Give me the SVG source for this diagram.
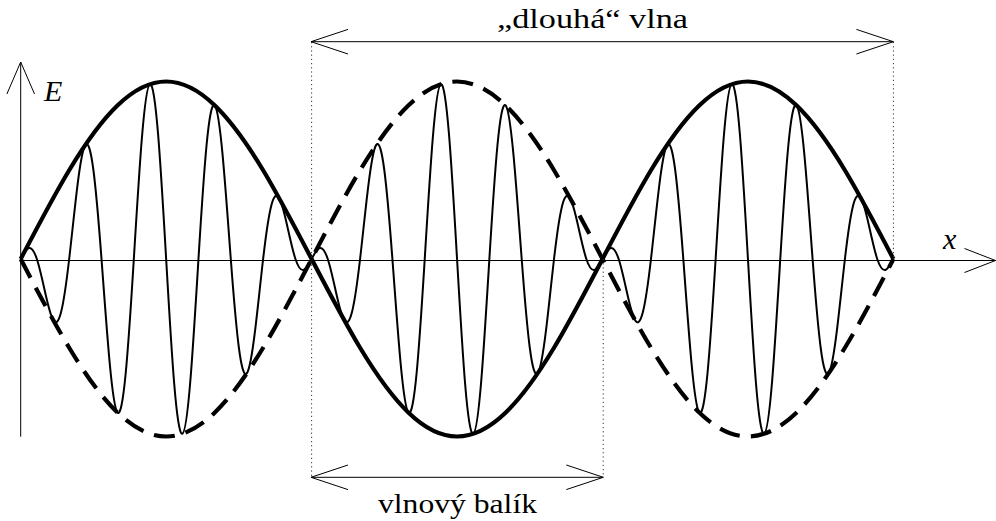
<svg xmlns="http://www.w3.org/2000/svg" xmlns:xlink="http://www.w3.org/1999/xlink" width="996" height="521" viewBox="0 0 996 521">
<style>
.env{fill:none;stroke:#000;stroke-width:4.2;stroke-linejoin:miter}
.dash{stroke-dasharray:21 11.2}
.car{fill:none;stroke:#000;stroke-width:2}
.ax{fill:none;stroke:#000;stroke-width:1}
.dim{fill:none;stroke:#000;stroke-width:1}
.dot{fill:none;stroke:#333;stroke-width:1;stroke-dasharray:1.2 3}
text{fill:#000}
</style>
<defs>
<marker id="arr" viewBox="-40 -15 42 30" refX="0" refY="0" markerWidth="42" markerHeight="30" markerUnits="userSpaceOnUse" orient="auto-start-reverse" overflow="visible">
<path d="M-37,-12.3 L0,0 L-37,12.3" fill="none" stroke="#000" stroke-width="1"/>
</marker>
<path id="envpath" d="M20.70,259 C36.86,228.02 53.02,197.08 69.18,170.25 C85.34,143.42 101.51,120.77 117.67,105.28 C133.83,89.79 149.99,81.5 166.15,81.5 C182.31,81.5 198.47,89.79 214.63,105.28 C230.79,120.77 246.96,143.42 263.12,170.25 C279.28,197.08 295.44,228.02 311.60,259 C327.76,289.98 343.92,320.92 360.08,347.75 C376.24,374.58 392.41,397.23 408.57,412.72 C424.73,428.21 440.89,436.5 457.05,436.5 C473.21,436.5 489.37,428.21 505.53,412.72 C521.69,397.23 537.86,374.58 554.02,347.75 C570.18,320.92 586.34,289.98 602.50,259 C618.66,228.02 634.82,197.08 650.98,170.25 C667.14,143.42 683.31,120.77 699.47,105.28 C715.63,89.79 731.79,81.5 747.95,81.5 C764.11,81.5 780.27,89.79 796.43,105.28 C812.59,120.77 828.76,143.42 844.92,170.25 C861.08,197.08 877.24,228.02 893.40,259"/>
<path id="carpath" d="M20.70,259 C23.39,253.84 26.09,248.83 28.78,248.06 C31.47,247.29 34.17,250.93 36.86,259 C39.55,267.07 42.25,279.46 44.94,291.49 C47.63,303.52 50.33,314.86 53.02,319.71 C55.71,324.56 58.41,322.62 61.10,312.04 C63.79,301.46 66.49,282.24 69.18,259 C71.87,235.77 74.57,208.85 77.26,187.01 C79.95,165.17 82.65,148.86 85.34,144.90 C88.03,140.95 90.74,149.60 93.43,170.25 C96.12,190.90 98.82,223.40 101.51,259 C104.20,294.60 106.90,332.80 109.59,361.81 C112.28,390.82 114.98,410.14 117.67,412.72 C120.36,415.30 123.06,400.99 125.75,372.75 C128.44,344.51 131.14,302.67 133.83,259 C136.52,215.33 139.22,170.45 141.91,137.76 C144.60,105.08 147.30,85.10 149.99,84.20 C152.68,83.30 155.38,101.55 158.07,133.97 C160.76,166.39 163.46,212.53 166.15,259 C168.84,305.47 171.54,351.62 174.23,384.04 C176.92,416.46 179.62,434.70 182.31,433.80 C185.00,432.90 187.70,412.93 190.39,380.24 C193.08,347.56 195.78,302.67 198.47,259 C201.16,215.33 203.86,173.49 206.55,145.25 C209.24,117.01 211.94,102.70 214.63,105.28 C217.32,107.86 220.02,127.18 222.71,156.19 C225.40,185.20 228.10,223.40 230.79,259 C233.48,294.60 236.19,327.10 238.88,347.75 C241.57,368.40 244.27,377.06 246.96,373.10 C249.65,369.15 252.35,352.83 255.04,330.99 C257.73,309.15 260.43,282.24 263.12,259 C265.81,235.77 268.51,216.54 271.20,205.96 C273.89,195.38 276.59,193.44 279.28,198.29 C281.97,203.14 284.67,214.48 287.36,226.51 C290.05,238.54 292.75,250.93 295.44,259 C298.13,267.07 300.83,270.71 303.52,269.94 C306.21,269.17 308.91,264.16 311.60,259"/>
</defs>
<rect width="996" height="521" fill="#fff"/>
<g id="axes">
<line class="ax" x1="20.7" y1="260.5" x2="995.5" y2="260.5"/>
<path class="ax" d="M964.5,248.5 L995.5,260.5 L964.5,272.5"/>
<line class="ax" x1="20.7" y1="436.7" x2="20.7" y2="62"/>
<path class="ax" d="M6.9,94 L20.7,62 L34.5,94"/>
</g>
<g id="envelope">
<use xlink:href="#envpath" class="env"/>
<use xlink:href="#envpath" class="env dash" transform="matrix(1 0 0 -1 0 518)"/>
</g>
<g id="carrier">
<use xlink:href="#carpath" class="car"/>
<use xlink:href="#carpath" class="car" transform="translate(290.9 0)"/>
<use xlink:href="#carpath" class="car" transform="translate(581.8 0)"/>
</g>
<g id="connectors">
<line class="dot" x1="311.6" y1="42" x2="311.6" y2="477.3"/>
<line class="dot" x1="893.4" y1="42" x2="893.4" y2="259"/>
<line class="dot" x1="603.2" y1="259" x2="603.2" y2="477.3"/>
<line class="dim" x1="311" y1="41.7" x2="893.4" y2="41.7" marker-start="url(#arr)" marker-end="url(#arr)"/>
<line class="dim" x1="311" y1="477.3" x2="603.3" y2="477.3" marker-start="url(#arr)" marker-end="url(#arr)"/>
</g>
<g id="labels">
<text font-family="Liberation Serif, Times New Roman, serif" font-style="italic" font-size="30" x="44" y="100.5">E</text>
<text font-family="Liberation Serif, Times New Roman, serif" font-style="italic" font-size="30" x="943" y="249">x</text>
<text font-family="Liberation Serif, Times New Roman, serif" font-size="28" x="497" y="27.7" textLength="191" lengthAdjust="spacingAndGlyphs">„dlouhá“ vlna</text>
<text font-family="Liberation Serif, Times New Roman, serif" font-size="28" x="378" y="512.7" textLength="159" lengthAdjust="spacingAndGlyphs">vlnový balík</text>
</g>
</svg>
